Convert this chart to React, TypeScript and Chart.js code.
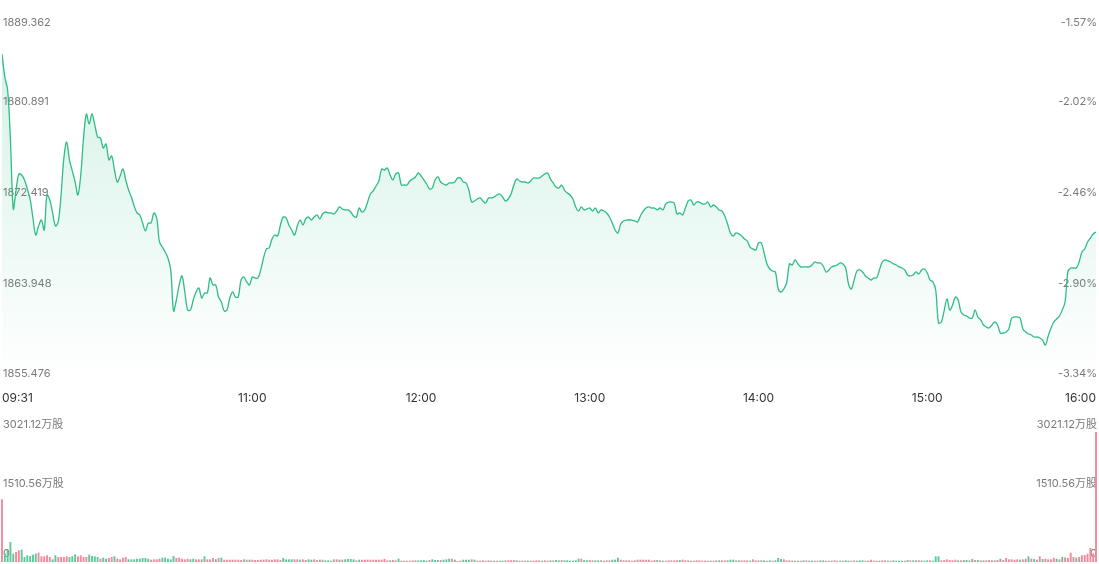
import React, { useEffect, useRef } from 'react';
import { Chart, registerables } from 'chart.js';

Chart.register(...registerables);

const FONT = 'Inter, "Noto Sans CJK SC", "DejaVu Sans", sans-serif';

// time axis (minute index from 09:31)
const timeLabels = ['09:31', '11:00', '12:00', '13:00', '14:00', '15:00', '16:00'];
const timeIndex = [0, 89, 149, 209, 269, 329, 389];

// price axis
const priceTicks = [1855.476, 1863.948, 1872.419, 1880.891, 1889.362];
const pctLabels = ['-3.34%', '-2.90%', '-2.46%', '-2.02%', '-1.57%'];

// volume axis
const volTicks = [0, 1510.56, 3021.12];
const volLabels = ['0', '1510.56万股', '3021.12万股'];

// minute prices 09:31 .. 16:00
const prices = [
  1885.91, 1883.76, 1882.55, 1877.88, 1871.44, 1873.21, 1874.71, 1874.61, 1874.15, 1873.31,
  1872.37, 1870.60, 1869.01, 1869.85, 1870.41, 1869.48, 1872.75, 1872.28, 1871.07, 1869.85,
  1870.23, 1872.75, 1876.20, 1877.69, 1876.01, 1874.99, 1873.96, 1872.75, 1874.61, 1878.07,
  1880.31, 1879.37, 1880.31, 1879.28, 1878.16, 1878.07, 1877.13, 1877.51, 1876.01, 1876.39,
  1875.08, 1873.96, 1874.52, 1875.17, 1874.15, 1873.21, 1872.56, 1871.72, 1871.07, 1870.88,
  1870.13, 1869.39, 1870.13, 1870.13, 1871.07, 1870.60, 1868.36, 1867.89, 1867.43, 1866.87,
  1865.75, 1861.92, 1862.94, 1864.35, 1865.19, 1863.69, 1862.01, 1862.01, 1862.94, 1863.69,
  1864.07, 1863.13, 1863.60, 1863.60, 1865.00, 1864.35, 1864.35, 1863.23, 1862.76, 1861.92,
  1862.01, 1863.13, 1863.69, 1863.23, 1863.23, 1864.81, 1865.09, 1864.63, 1864.35, 1865.09,
  1865.00, 1865.00, 1865.75, 1866.87, 1867.71, 1867.80, 1868.64, 1869.01, 1868.92, 1869.95,
  1870.69, 1870.60, 1869.95, 1869.48, 1869.01, 1869.85, 1870.41, 1869.95, 1870.51, 1870.69,
  1870.41, 1870.69, 1870.88, 1870.51, 1870.97, 1871.16, 1871.07, 1871.07, 1870.97, 1871.25,
  1871.63, 1871.44, 1871.35, 1871.35, 1871.16, 1870.79, 1870.69, 1871.53, 1871.16, 1871.35,
  1872.09, 1872.84, 1873.12, 1873.59, 1874.05, 1875.17, 1875.08, 1875.27, 1874.61, 1874.15,
  1874.71, 1874.80, 1873.68, 1873.68, 1873.68, 1874.05, 1874.24, 1874.43, 1874.80, 1874.52,
  1874.15, 1873.77, 1873.31, 1873.40, 1874.15, 1874.43, 1873.96, 1873.77, 1873.68, 1873.87,
  1873.87, 1873.96, 1874.33, 1874.33, 1873.96, 1873.87, 1873.21, 1872.09, 1872.19, 1872.37,
  1872.47, 1872.19, 1872.00, 1872.47, 1872.47, 1872.56, 1872.75, 1872.84, 1872.56, 1872.19,
  1872.37, 1872.84, 1873.68, 1874.24, 1874.05, 1873.96, 1873.96, 1873.87, 1874.05, 1874.33,
  1874.33, 1874.33, 1874.52, 1874.71, 1874.80, 1874.24, 1873.87, 1873.49, 1873.40, 1873.68,
  1873.21, 1872.93, 1872.75, 1872.37, 1871.63, 1871.25, 1871.63, 1871.35, 1871.44, 1871.53,
  1871.25, 1871.53, 1871.07, 1871.35, 1871.25, 1871.07, 1870.69, 1870.13, 1869.48, 1869.20,
  1870.04, 1870.32, 1870.41, 1870.41, 1870.41, 1870.32, 1870.23, 1870.79, 1871.25, 1871.53,
  1871.63, 1871.53, 1871.53, 1871.35, 1871.53, 1871.35, 1871.91, 1872.09, 1872.09, 1872.00,
  1870.97, 1871.07, 1870.88, 1871.53, 1872.19, 1872.28, 1871.81, 1872.09, 1872.09, 1871.91,
  1871.91, 1872.09, 1871.63, 1871.81, 1871.63, 1871.35, 1871.25, 1870.79, 1870.04, 1869.20,
  1868.92, 1869.20, 1869.11, 1868.92, 1868.64, 1868.45, 1867.89, 1867.71, 1867.61, 1868.27,
  1868.27, 1867.33, 1866.31, 1865.84, 1865.65, 1865.56, 1863.97, 1863.69, 1863.97, 1864.53,
  1866.31, 1866.21, 1866.68, 1866.31, 1866.03, 1866.03, 1866.03, 1866.03, 1866.21, 1866.49,
  1866.40, 1866.40, 1866.12, 1865.56, 1865.75, 1866.03, 1866.12, 1866.21, 1866.40, 1866.31,
  1865.93, 1864.44, 1863.97, 1864.81, 1865.65, 1865.75, 1865.56, 1865.19, 1865.00, 1864.81,
  1865.00, 1865.00, 1865.75, 1866.49, 1866.68, 1866.59, 1866.49, 1866.31, 1866.21, 1866.03,
  1865.93, 1865.75, 1865.28, 1865.19, 1865.28, 1865.56, 1865.37, 1865.75, 1865.84, 1865.47,
  1864.81, 1864.63, 1863.88, 1860.80, 1860.89, 1861.92, 1863.04, 1862.01, 1862.48, 1863.23,
  1862.94, 1861.82, 1861.54, 1861.45, 1861.26, 1861.26, 1862.01, 1861.36, 1861.08, 1860.61,
  1860.42, 1860.33, 1860.61, 1860.89, 1860.61, 1859.86, 1859.86, 1859.96, 1860.24, 1861.26,
  1861.36, 1861.36, 1861.26, 1860.24, 1859.96, 1859.77, 1859.68, 1859.49, 1859.49, 1859.40,
  1859.21, 1858.74, 1859.58, 1860.33, 1860.89, 1861.17, 1861.45, 1862.01, 1862.76, 1865.56,
  1865.93, 1865.93, 1865.93, 1866.49, 1867.43, 1867.71, 1868.36, 1868.73, 1869.11, 1869.29,
];

// minute volumes (万股)
const volumes = [
  1460, 200, 287, 465, 194, 232, 271, 287, 116, 155,
  139, 170, 194, 217, 132, 132, 155, 116, 62, 155,
  116, 116, 116, 132, 116, 132, 178, 132, 155, 116,
  116, 170, 139, 132, 116, 77, 101, 77, 93, 116,
  132, 77, 62, 101, 116, 62, 62, 62, 77, 77,
  93, 93, 77, 54, 62, 62, 77, 101, 101, 77,
  62, 139, 93, 101, 77, 62, 77, 62, 77, 62,
  62, 62, 132, 62, 62, 93, 62, 93, 101, 54,
  54, 54, 54, 54, 54, 46, 62, 54, 54, 54,
  46, 46, 54, 54, 62, 54, 54, 62, 62, 46,
  93, 62, 62, 62, 62, 62, 54, 62, 46, 62,
  54, 62, 46, 54, 54, 39, 39, 31, 62, 62,
  54, 54, 62, 70, 70, 62, 39, 54, 54, 54,
  54, 54, 54, 54, 54, 54, 70, 39, 39, 46,
  39, 77, 31, 31, 31, 31, 39, 39, 39, 39,
  46, 31, 46, 62, 46, 46, 46, 54, 62, 77,
  77, 54, 23, 31, 54, 54, 54, 62, 54, 31,
  31, 39, 31, 39, 31, 31, 31, 31, 31, 39,
  39, 39, 46, 39, 31, 31, 31, 31, 31, 31,
  39, 39, 31, 39, 31, 39, 39, 46, 39, 46,
  39, 39, 31, 31, 39, 77, 77, 46, 39, 46,
  39, 39, 39, 39, 31, 39, 39, 54, 54, 101,
  54, 39, 39, 39, 31, 39, 54, 54, 54, 54,
  54, 31, 46, 46, 39, 31, 31, 39, 39, 39,
  39, 46, 54, 39, 39, 31, 31, 39, 39, 31,
  31, 31, 31, 31, 39, 39, 39, 39, 39, 54,
  54, 39, 39, 39, 39, 39, 31, 62, 39, 39,
  39, 39, 31, 39, 31, 39, 93, 70, 62, 39,
  39, 31, 31, 31, 31, 39, 39, 31, 31, 31,
  31, 39, 39, 31, 31, 31, 39, 31, 31, 31,
  39, 31, 31, 39, 31, 39, 39, 31, 31, 54,
  31, 31, 31, 39, 39, 31, 31, 39, 31, 31,
  31, 31, 46, 39, 39, 39, 39, 39, 31, 39,
  39, 31, 132, 132, 39, 46, 62, 46, 39, 54,
  39, 39, 46, 46, 39, 70, 46, 46, 39, 39,
  39, 46, 39, 39, 46, 77, 46, 93, 62, 62,
  54, 62, 54, 62, 77, 132, 77, 70, 54, 132,
  70, 77, 62, 62, 101, 77, 62, 116, 108, 93,
  217, 116, 101, 116, 155, 163, 194, 325, 200, 3021.12,
];

// u = up minute (red), d = down minute (green)
const volDirection = [
  'udddduuddd', 'ddduuuuudd', 'uuuuddduuu', 'uddddudduu', 'duuuuddddd',
  'ddduuuuddd', 'dduuuuuddu', 'uuduuududu', 'uuuuuududu', 'uuuuuuuuuu',
  'dddduuduud', 'duududdduu', 'dudddduduu', 'uuuuuuuudu', 'uduuuuuudd',
  'dduddduddd', 'uduudddudu', 'uuuudduddu', 'uuudududuu', 'uuduududdu',
  'dddddduddu', 'udduduuddd', 'uuuuuuuuuu', 'uuududuuuu', 'uduuuduuuu',
  'uuduuduudd', 'duduuuduuu', 'ddududdduu', 'ududududdu', 'udduuduudu',
  'dduudddudu', 'uuduududdd', 'dududududd', 'uddduuuuuu', 'duddududud',
  'uuduuduuuu', 'uuduududuu', 'duuuududuu', 'uuduuuuuuu',
].join('');

const LINE = '#2ebd85';
const UP = '#f5899b';
const DOWN = '#5cc99c';
const LABEL = '#7a7a7a';

export default function App() {
  const priceRef = useRef<HTMLCanvasElement>(null);
  const volRef = useRef<HTMLCanvasElement>(null);

  useEffect(() => {
    const yTickFont = { size: 11, family: FONT, lineHeight: '12px' };
    const priceLabel = (arr: string[]) => (_v: any, i: number) =>
      i === arr.length - 1 ? ['', arr[i]] : [arr[i], ''];

    const priceAxis = (position: 'left' | 'right', labels: string[]) => ({
      position,
      min: priceTicks[0],
      max: priceTicks[priceTicks.length - 1],
      grid: { display: false, drawTicks: false },
      border: { display: false },
      afterBuildTicks: (s: any) => {
        s.ticks = priceTicks.map((v) => ({ value: v }));
      },
      ticks: {
        mirror: true,
        padding: 1,
        autoSkip: false,
        color: LABEL,
        font: yTickFont,
        callback: priceLabel(labels),
      },
    });

    const pc = new Chart(priceRef.current!, {
      type: 'line',
      data: {
        datasets: [
          {
            data: prices.map((y, i) => ({ x: i, y })),
            borderColor: LINE,
            borderWidth: 1.3,
            pointRadius: 0,
            tension: 0.35,
            fill: 'start',
            backgroundColor: (ctx: any) => {
              const { chart } = ctx;
              const area = chart.chartArea;
              if (!area) return 'rgba(46,189,133,0.1)';
              const g = chart.ctx.createLinearGradient(0, area.top, 0, area.bottom);
              g.addColorStop(0, 'rgba(46,189,133,0.22)');
              g.addColorStop(1, 'rgba(46,189,133,0)');
              return g;
            },
          },
        ],
      },
      options: {
        responsive: false,
        animation: false,
        events: [],
        layout: { padding: { top: 17, left: 0, right: 1, bottom: 0 } },
        plugins: { legend: { display: false }, tooltip: { enabled: false } },
        scales: {
          x: {
            type: 'linear',
            min: 0,
            max: 389,
            grid: { display: false, drawTicks: false },
            border: { display: false },
            afterBuildTicks: (s: any) => {
              s.ticks = timeIndex.map((v) => ({ value: v }));
            },
            ticks: {
              autoSkip: false,
              maxRotation: 0,
              align: 'inner',
              padding: 0,
              color: '#333',
              font: { size: 12, family: FONT, lineHeight: '36px' },
              callback: (_v: any, i: number) => timeLabels[i],
            },
          },
          y: priceAxis('left', priceTicks.map((v) => v.toFixed(3))),
          y2: priceAxis('right', pctLabels),
        } as any,
      },
    });

    const volLineHeights = ['16px', '27px', '15px'];
    const volAxis = (position: 'left' | 'right') => ({
      type: 'linear',
      position,
      min: 0,
      max: volTicks[volTicks.length - 1],
      grid: { display: false, drawTicks: false },
      border: { display: false },
      afterBuildTicks: (s: any) => {
        s.ticks = volTicks.map((v) => ({ value: v }));
      },
      ticks: {
        mirror: true,
        padding: 1,
        autoSkip: false,
        color: LABEL,
        font: (ctx: any) => ({ size: 11, family: FONT, lineHeight: volLineHeights[ctx.index] || '16px' }),
        callback: (_v: any, i: number) => [volLabels[i], ''],
      },
    });

    const vc = new Chart(volRef.current!, {
      type: 'bar',
      data: {
        datasets: [
          {
            data: volumes.map((y, i) => ({ x: i, y })),
            backgroundColor: volumes.map((_, i) => (volDirection[i] === 'u' ? UP : DOWN)),
            borderWidth: 0,
            barPercentage: 0.68,
            categoryPercentage: 1,
            clip: false,
          },
        ],
      },
      options: {
        responsive: false,
        animation: false,
        events: [],
        layout: { padding: { top: 22, left: 0, right: 1, bottom: 0 } },
        plugins: { legend: { display: false }, tooltip: { enabled: false } },
        scales: {
          x: {
            type: 'linear',
            min: 0,
            max: 389,
            offset: false,
            grid: { display: false, drawTicks: false, offset: false },
            border: { display: false },
            ticks: { display: false },
          },
          y: volAxis('left'),
          y2: volAxis('right'),
        } as any,
      },
    });

    return () => {
      pc.destroy();
      vc.destroy();
    };
  }, []);

  return (
    <div style={{ position: 'fixed', left: 0, top: 0, width: 1099, height: 564, background: '#fff', overflow: 'hidden' }}>
      <canvas ref={priceRef} width={1099} height={416} style={{ position: 'absolute', left: 0, top: 0 }} />
      <div style={{ position: 'absolute', left: 0, top: 410, width: 1099, height: 154, overflow: 'hidden' }}>
        <canvas ref={volRef} width={1099} height={169} style={{ position: 'absolute', left: 0, top: 0 }} />
      </div>
    </div>
  );
}
